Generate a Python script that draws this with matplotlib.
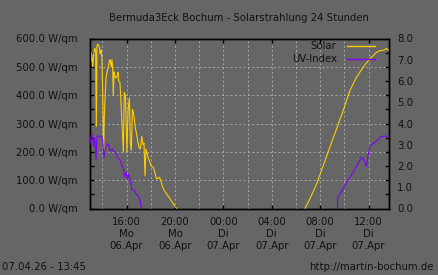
import numpy as np
import matplotlib
matplotlib.use("Agg")
import matplotlib.pyplot as plt
from matplotlib.ticker import MultipleLocator, FixedLocator

# hours since 06.Apr 00:00
solar_pm_t = [13.06, 13.11, 13.20, 13.28, 13.36, 13.44, 13.50, 13.55, 13.63, 13.74, 13.82, 13.90, 13.96,
              14.02, 14.10, 14.16, 14.30, 14.41, 14.52, 14.57, 14.63, 14.74, 14.79, 14.85, 14.90, 14.96,
              15.01, 15.12, 15.23, 15.29, 15.34, 15.45, 15.53, 15.62, 15.73, 15.81, 15.90, 15.95, 16.03,
              16.12, 16.23, 16.31, 16.39, 16.48, 16.56, 16.64, 16.72, 16.83, 16.92, 17.03, 17.14, 17.25,
              17.36, 17.44, 17.52, 17.60, 17.74, 17.88, 18.02, 18.21, 18.35, 18.49, 18.71, 18.82, 18.98,
              19.17, 19.37, 19.59, 19.81, 20.00, 20.14]
solar_pm_v = [520, 550, 500, 545, 565, 560, 290, 575, 580, 570, 545, 560, 530,
              420, 200, 330, 463, 485, 505, 520, 525, 500, 525, 495, 398, 482,
              470, 460, 470, 480, 450, 445, 380, 298, 200, 410, 398, 320, 200,
              345, 390, 230, 205, 350, 340, 316, 285, 262, 238, 215, 210, 255,
              225, 230, 115, 210, 186, 169, 150, 145, 125, 104, 110, 100, 75,
              60, 48, 34, 20, 8, 0]

solar_am_t = [30.74, 31.15, 31.70, 32.25, 32.80, 33.35, 33.90, 34.45, 35.00, 35.55, 36.10, 36.65,
              36.93, 37.34, 37.47, 37.69]
solar_am_v = [0, 34, 86, 151, 216, 281, 345, 416, 463, 498, 528, 551, 557, 560, 565, 558]

uv_pm_t = [13.02, 13.06, 13.11, 13.20, 13.30, 13.38, 13.47, 13.55, 13.74, 13.93, 14.02, 14.13, 14.24,
           14.41, 14.52, 14.63, 14.79, 14.96, 15.12, 15.29, 15.45, 15.62, 15.73, 15.84, 15.95, 16.06,
           16.17, 16.28, 16.44, 16.64, 16.78, 16.94, 17.11, 17.22]
uv_pm_v = [3.1, 3.3, 3.5, 3.4, 2.9, 3.3, 2.3, 3.4, 3.4, 3.4, 3.2, 2.4, 2.8,
           3.05, 3.0, 2.7, 2.8, 2.7, 2.6, 2.35, 2.3, 2.0, 1.9, 1.5, 1.7, 1.4,
           1.6, 1.4, 0.9, 0.85, 0.7, 0.6, 0.4, 0.0]

uv_am_t = [33.43, 33.45, 33.62, 33.90, 34.18, 34.45, 34.73, 35.00, 35.28, 35.41, 35.55, 35.69,
           35.83, 35.96, 36.10, 36.24, 36.51, 36.79, 37.06, 37.53]
uv_am_v = [0.0, 0.53, 0.68, 0.92, 1.23, 1.47, 1.7, 2.0, 2.25, 2.4, 2.35, 2.2,
           1.97, 2.5, 2.88, 3.0, 3.1, 3.25, 3.4, 3.4]

tick_hours = [16, 20, 24, 28, 32, 36]
tick_labels = ["16:00\nMo\n06.Apr", "20:00\nMo\n06.Apr", "00:00\nDi\n07.Apr",
               "04:00\nDi\n07.Apr", "08:00\nDi\n07.Apr", "12:00\nDi\n07.Apr"]
left_labels = ["0.0 W/qm", "100.0 W/qm", "200.0 W/qm", "300.0 W/qm", "400.0 W/qm",
               "500.0 W/qm", "600.0 W/qm"]
right_labels = ["0.0", "1.0", "2.0", "3.0", "4.0", "5.0", "6.0", "7.0", "8.0"]

BG = "#666666"
TXT = "#111111"
SOLAR = "#ffcc00"
UV = "#8000ff"
FS = 7.3
LW = 0.8

W, H = 438, 275
fig = plt.figure(figsize=(W / 100, H / 100), dpi=100, facecolor=BG)
x0, x1, ytop, ybot = 90.3, 389.0, 38.5, 208.5
ax = fig.add_axes([x0 / W, (H - ybot) / H, (x1 - x0) / W, (ybot - ytop) / H])
ax.set_facecolor(BG)
ax.set_xlim(13.0, 37.69)
ax.set_ylim(0, 600)

for s in ax.spines.values():
    s.set_color("black")
    s.set_linewidth(1.0)

# grid
for gx in np.arange(14, 37, 2):
    ax.axvline(gx, color="#a8a8a8", lw=0.7, ls=(0, (2, 2.5)), zorder=0.5)
for gy in range(100, 600, 100):
    ax.axhline(gy, color="#a8a8a8", lw=0.7, ls=(0, (2, 2.5)), zorder=0.5)

ax.plot(solar_pm_t, solar_pm_v, color=SOLAR, lw=LW, zorder=3)
ax.plot(solar_am_t, solar_am_v, color=SOLAR, lw=LW, zorder=3)

ax2 = ax.twinx()
ax2.set_ylim(0, 8)
ax2.plot(uv_pm_t, uv_pm_v, color=UV, lw=LW, zorder=3)
ax2.plot(uv_am_t, uv_am_v, color=UV, lw=LW, zorder=3)
for s in ax2.spines.values():
    s.set_color("black")
    s.set_linewidth(1.0)

ax.xaxis.set_major_locator(FixedLocator(tick_hours))
ax.set_xticklabels(tick_labels, fontsize=FS, color=TXT, linespacing=1.25)
ax.tick_params(axis="x", which="major", direction="in", length=3, width=1, color="black",
               top=True, bottom=True, pad=6)

ax.yaxis.set_major_locator(FixedLocator(range(0, 601, 100)))
ax.set_yticklabels(left_labels, fontsize=FS, color=TXT)
ax.yaxis.set_minor_locator(MultipleLocator(50))
ax.tick_params(axis="y", which="both", direction="in", length=3, width=1, color="black",
               left=True, right=False, pad=9)

ax2.yaxis.set_major_locator(FixedLocator(range(0, 9)))
ax2.set_yticklabels(right_labels, fontsize=FS, color=TXT)
ax2.yaxis.set_minor_locator(FixedLocator([]))
ax2.tick_params(axis="y", which="major", direction="in", length=0, pad=6)
# mirror left ticks on right side
for v in range(50, 600, 50):
    ax.plot([1.0 - 0.01, 1.0], [v, v], transform=ax.get_yaxis_transform(), color="black",
            lw=1, clip_on=False, zorder=4)

# legend
fig.text(336 / W, 1 - 46 / H, "Solar", ha="right", va="center", fontsize=FS, color=TXT)
fig.text(337 / W, 1 - 58.5 / H, "UV-Index", ha="right", va="center", fontsize=FS, color=TXT)
fig.add_artist(plt.Line2D([347 / W, 375 / W], [1 - 46 / H, 1 - 46 / H], color=SOLAR, lw=1.0))
fig.add_artist(plt.Line2D([347 / W, 375 / W], [1 - 59.3 / H, 1 - 59.3 / H], color=UV, lw=1.0))

fig.text(239 / W, 1 - 18 / H, "Bermuda3Eck Bochum - Solarstrahlung 24 Stunden", ha="center",
         va="center", fontsize=FS, color=TXT)
fig.text(2 / W, 1 - 267 / H, "07.04.26 - 13:45", ha="left", va="center", fontsize=FS, color=TXT)
fig.text(434 / W, 1 - 267 / H, "http://martin-bochum.de", ha="right", va="center", fontsize=FS,
         color=TXT)

fig.savefig("out.png", dpi=100, facecolor=BG)
